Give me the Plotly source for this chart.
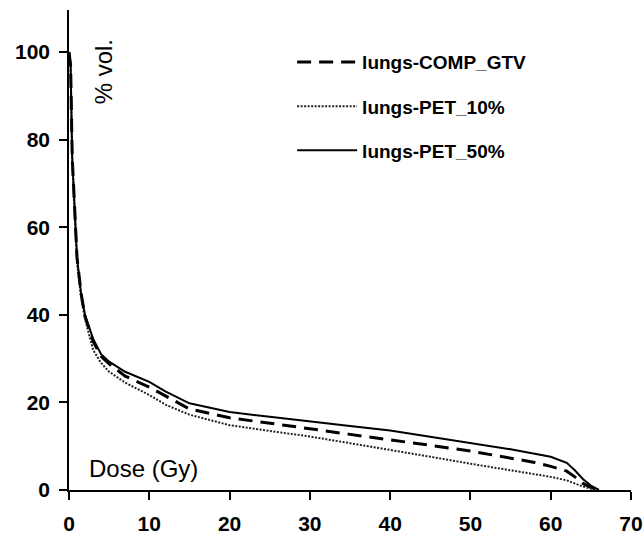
import plotly.graph_objects as go

# dose (Gy) sample points
dose = [0, 0.2, 0.4, 0.7, 1, 1.5, 2, 3, 4, 5, 7, 10, 12, 15, 20, 25, 30,
        35, 40, 45, 50, 55, 58, 60, 62, 63, 64, 65, 66]

comp_gtv = [100, 97, 76, 64, 53, 45, 39.5, 34, 30.5, 28.8, 26, 23.5, 21.5,
            18.5, 16.5, 15.3, 14, 12.7, 11.5, 10.2, 8.9, 7.3, 6.3, 5.4, 4.3,
            3, 1.5, 0.6, 0]
pet_10 = [100, 97, 75, 63, 52, 44, 39, 32, 29, 27, 24.5, 21.7, 19.5, 17.2,
          14.8, 13.5, 12.2, 10.7, 9.2, 7.6, 6, 4.5, 3.7, 3, 2.2, 1.5, 0.8,
          0.3, 0]
pet_50 = [100, 97, 76, 64, 53, 45, 40, 34.5, 31, 29.3, 27, 24.7, 22.5, 19.8,
          17.8, 16.7, 15.6, 14.6, 13.6, 12.2, 10.8, 9.3, 8.3, 7.6, 6.2, 4.5,
          2.5, 1, 0]

x_ticks = [0, 10, 20, 30, 40, 50, 60, 70]
y_ticks = [0, 20, 40, 60, 80, 100]

FONT = "Liberation Sans, Arial, sans-serif"

fig = go.Figure()
fig.add_trace(go.Scatter(
    x=dose, y=comp_gtv, mode="lines", name="lungs-COMP_GTV",
    legendgroup="a",
    line=dict(color="black", width=3, dash="14px,8px"),
))
fig.add_trace(go.Scatter(
    x=dose, y=pet_10, mode="lines", name="lungs-PET_10%",
    legendgroup="b",
    line=dict(color="#222222", width=2, dash="2px,1.5px"),
))
fig.add_trace(go.Scatter(
    x=dose, y=pet_50, mode="lines", name="lungs-PET_50%",
    legendgroup="c",
    line=dict(color="black", width=2),
))

fig.add_annotation(
    text="Dose (Gy)", x=0.1324, y=0.044, xref="paper", yref="paper",
    xanchor="center", yanchor="middle",
    showarrow=False, font=dict(family=FONT, size=24, color="black"),
)
fig.add_annotation(
    text="% vol.", x=0.0613, y=0.871, xref="paper", yref="paper",
    xanchor="center", yanchor="middle",
    showarrow=False, textangle=-90,
    font=dict(family=FONT, size=24, color="black"),
)

fig.update_layout(
    width=644,
    height=540,
    margin=dict(l=68.5, r=13, t=10, b=50),
    paper_bgcolor="white",
    plot_bgcolor="white",
    font=dict(family=FONT, color="black"),
    showlegend=True,
    legend=dict(
        x=0.397, y=0.931, xanchor="left", yanchor="top",
        bgcolor="rgba(0,0,0,0)",
        itemwidth=60,
        tracegroupgap=16.5,
        font=dict(family=FONT, size=19, color="black", weight="bold"),
    ),
    xaxis=dict(
        range=[0, 70],
        tickvals=x_ticks,
        showgrid=False,
        zeroline=False,
        showline=True,
        linecolor="black",
        linewidth=1.5,
        ticks="outside",
        ticklen=8,
        tickwidth=1.5,
        tickcolor="black",
        ticklabelstandoff=6,
        automargin=False,
        tickfont=dict(family=FONT, size=21, weight="bold"),
    ),
    yaxis=dict(
        range=[0, 109.6],
        tickvals=y_ticks,
        showgrid=False,
        zeroline=False,
        showline=True,
        linecolor="black",
        linewidth=1.5,
        ticks="outside",
        ticklen=8,
        tickwidth=1.5,
        tickcolor="black",
        ticklabelstandoff=5,
        automargin=False,
        tickfont=dict(family=FONT, size=21, weight="bold"),
    ),
)

# drop the default 8px body margin so the full figure fits the window
fig.write_html(
    "out.html",
    config={"displayModeBar": False},
    post_script="document.body.style.margin = '0';",
)
